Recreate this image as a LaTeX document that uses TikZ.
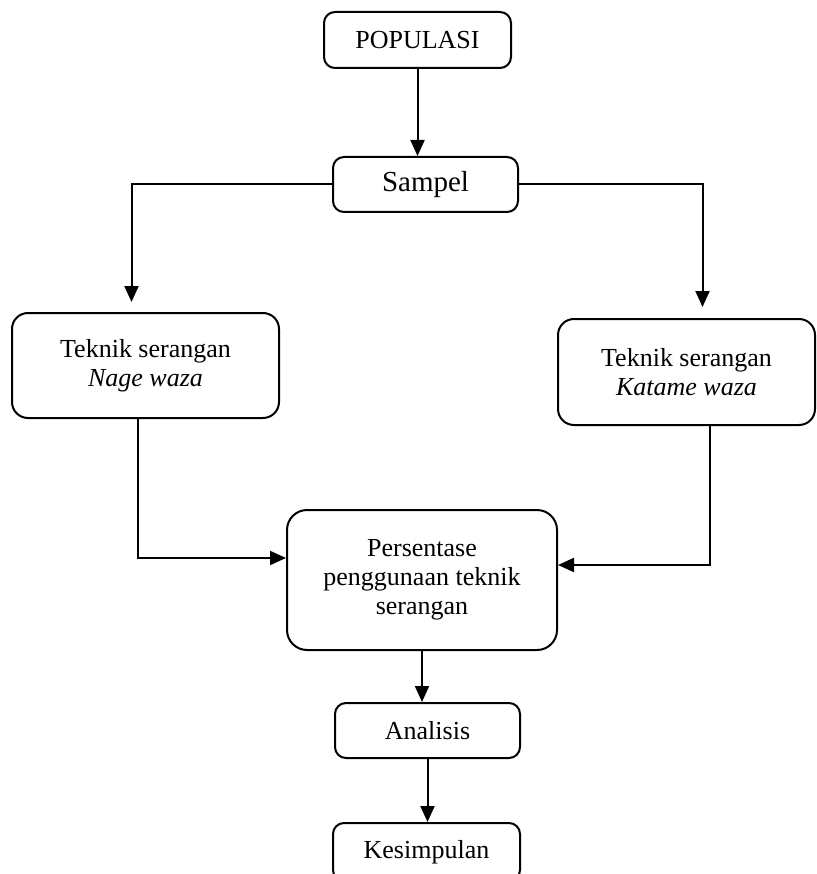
\documentclass[tikz,border=0pt]{standalone}
\usepackage{fontspec}
\setmainfont{Liberation Serif}
\usetikzlibrary{arrows.meta}

\tikzset{
    box/.style={draw, line width=2pt, align=center, inner sep=0pt,
        font=\fontsize{26}{29}\selectfont},
    arr/.style={line width=2pt, -{Triangle[width=14pt,length=16pt]}}
}

\begin{document}
\begin{tikzpicture}[x=1pt, y=-1pt]
            \useasboundingbox (0,0) rectangle (816,874);

            % Kotak
            \foreach \name/\x/\y/\w/\h/\r/\txt in {
                    pop/417.5/40/187/56/11/{POPULASI},
                    sampel/425.5/184.5/185/55/11/{\fontsize{29}{32}\selectfont Sampel},
                    nage/145.5/365.5/267/105/16/{Teknik serangan\\\textit{Nage waza}},
                    katame/686.5/372/257/106/16/{Teknik serangan\\\textit{Katame waza}},
                    pers/422/580/270/140/20/{Persentase\\penggunaan teknik\\serangan},
                    analisis/427.5/730.5/185/55/11/{Analisis},
                    kes/426.5/852/187/58/11/{Kesimpulan}} {
                    \node[box, rounded corners=\r pt, minimum width=\w pt, minimum height=\h pt] (\name) at (\x,\y) {\txt};
                }

            % Panah lurus
            \foreach \a/\b in {pop/sampel, pers/analisis, analisis/kes} {
                    \draw[arr] (\a) -- (\a |- \b.north);
                }

            % Panah bercabang
            \draw[arr, shorten >=10pt] (sampel.west) -| ([xshift=-14pt]nage.north);
            \draw[arr, shorten >=11pt] (sampel.east) -| ([xshift=16pt]katame.north);
            \draw[arr] ([xshift=-8pt]nage.south) |- ([yshift=22pt]pers.west);
            \draw[arr] ([xshift=23pt]katame.south) |- ([yshift=15pt]pers.east);
        \end{tikzpicture}
\end{document}
